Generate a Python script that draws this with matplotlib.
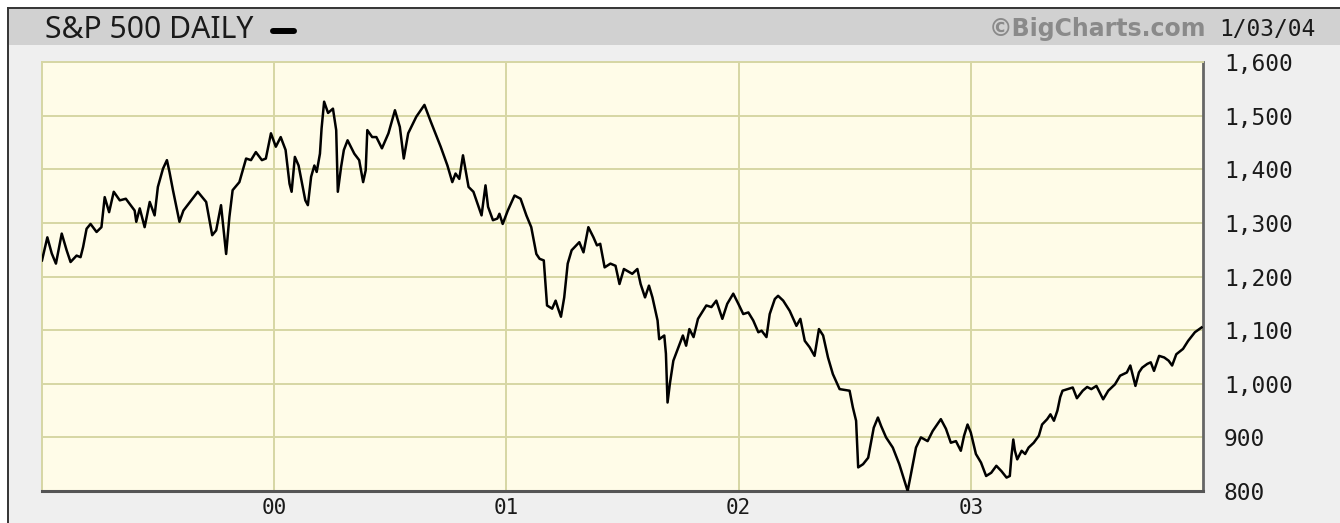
import matplotlib
matplotlib.use("agg")
import matplotlib.pyplot as plt
from matplotlib.patches import Rectangle
from matplotlib.lines import Line2D

# S&P 500 daily close (x in decimal years)
years = [
    1999.000, 1999.023, 1999.042, 1999.060, 1999.085, 1999.106, 1999.123, 1999.149, 1999.166, 1999.177,
    1999.192, 1999.209, 1999.235, 1999.256, 1999.270, 1999.289, 1999.309, 1999.335, 1999.361, 1999.399,
    1999.406, 1999.421, 1999.442, 1999.464, 1999.485, 1999.499, 1999.521, 1999.538, 1999.549, 1999.564,
    1999.592, 1999.609, 1999.671, 1999.707, 1999.733, 1999.750, 1999.771, 1999.793, 1999.807, 1999.821,
    1999.850, 1999.879, 1999.900, 1999.921, 1999.947, 1999.964, 1999.986,
    2000.007, 2000.028, 2000.049, 2000.066, 2000.075, 2000.089, 2000.105, 2000.134, 2000.145, 2000.159,
    2000.173, 2000.183, 2000.197, 2000.204, 2000.215, 2000.232, 2000.253, 2000.267, 2000.274, 2000.288,
    2000.300, 2000.316, 2000.345, 2000.366, 2000.383, 2000.394, 2000.401, 2000.422, 2000.440, 2000.464,
    2000.492, 2000.520, 2000.541, 2000.558, 2000.577, 2000.612, 2000.647, 2000.675, 2000.717, 2000.746,
    2000.767, 2000.781, 2000.797, 2000.813, 2000.823, 2000.837, 2000.858, 2000.893, 2000.910, 2000.921,
    2000.942, 2000.961, 2000.970, 2000.984,
    2001.006, 2001.035, 2001.061, 2001.086, 2001.107, 2001.129, 2001.143, 2001.161, 2001.175, 2001.197,
    2001.212, 2001.223, 2001.235, 2001.249, 2001.264, 2001.281, 2001.314, 2001.332, 2001.353, 2001.375,
    2001.390, 2001.404, 2001.423, 2001.448, 2001.470, 2001.487, 2001.506, 2001.542, 2001.564, 2001.578,
    2001.597, 2001.614, 2001.629, 2001.651, 2001.658, 2001.680, 2001.687, 2001.694, 2001.704, 2001.719,
    2001.738, 2001.760, 2001.774, 2001.788, 2001.806, 2001.825, 2001.861, 2001.883, 2001.904, 2001.930,
    2001.951, 2001.977, 2001.999,
    2002.020, 2002.042, 2002.063, 2002.085, 2002.099, 2002.120, 2002.134, 2002.156, 2002.170, 2002.192,
    2002.220, 2002.249, 2002.266, 2002.285, 2002.306, 2002.327, 2002.346, 2002.364, 2002.385, 2002.406,
    2002.435, 2002.478, 2002.492, 2002.506, 2002.515, 2002.536, 2002.558, 2002.582, 2002.600, 2002.614,
    2002.635, 2002.664, 2002.692, 2002.728, 2002.742, 2002.764, 2002.785, 2002.814, 2002.836, 2002.871,
    2002.893, 2002.914, 2002.936, 2002.957, 2002.971, 2002.986,
    2003.000, 2003.022, 2003.044, 2003.066, 2003.088, 2003.110, 2003.132, 2003.154, 2003.168, 2003.175,
    2003.183, 2003.190, 2003.200, 2003.219, 2003.234, 2003.249, 2003.271, 2003.293, 2003.307, 2003.329,
    2003.343, 2003.358, 2003.373, 2003.385, 2003.395, 2003.417, 2003.439, 2003.457, 2003.482, 2003.501,
    2003.519, 2003.541, 2003.570, 2003.592, 2003.621, 2003.643, 2003.672, 2003.687, 2003.709, 2003.724,
    2003.738, 2003.760, 2003.775, 2003.789, 2003.811, 2003.833, 2003.852, 2003.867, 2003.885, 2003.914,
    2003.936, 2003.965, 2003.994,
]
closes = [
    1230, 1273, 1243, 1224, 1280, 1249, 1227, 1239, 1236, 1255,
    1289, 1298, 1283, 1292, 1348, 1320, 1358, 1342, 1345, 1323,
    1302, 1327, 1292, 1339, 1314, 1367, 1401, 1417, 1395, 1361,
    1302, 1323, 1358, 1339, 1277, 1286, 1333, 1242, 1311, 1361,
    1376, 1420, 1417, 1432, 1417, 1420, 1467,
    1442, 1460, 1436, 1373, 1358, 1423, 1407, 1342, 1333, 1386,
    1407, 1395, 1429, 1476, 1526, 1505, 1513, 1473, 1358, 1404,
    1436, 1454, 1429, 1417, 1376, 1398, 1473, 1460, 1460, 1439,
    1467, 1510, 1479, 1420, 1467, 1498, 1520, 1488, 1442, 1407,
    1376, 1392, 1382, 1426, 1401, 1367, 1358, 1314, 1370, 1330,
    1305, 1308, 1317, 1298,
    1323, 1351, 1345, 1314, 1292, 1242, 1233, 1230, 1146, 1140,
    1155, 1140, 1125, 1161, 1224, 1249, 1264, 1245, 1292, 1273,
    1258, 1261, 1217, 1224, 1220, 1186, 1214, 1205, 1214, 1186,
    1161, 1183, 1161, 1118, 1083, 1090, 1056, 965, 1000, 1043,
    1065, 1090, 1071, 1102, 1087, 1121, 1146, 1143, 1155, 1121,
    1149, 1168, 1149,
    1130, 1133, 1118, 1096, 1099, 1087, 1130, 1158, 1164, 1155,
    1136, 1108, 1121, 1080, 1068, 1052, 1102, 1090, 1049, 1018,
    990, 987, 956, 931, 844, 850, 862, 918, 937, 921,
    900, 881, 850, 800, 831, 881, 900, 893, 912, 934,
    916, 890, 893, 875, 903, 924,
    909, 869, 853, 828, 834, 847, 837, 825, 828, 865,
    896, 875, 859, 875, 869, 881, 890, 903, 924, 934,
    943, 931, 950, 975, 987, 990, 993, 973, 987, 994,
    990, 996, 971, 987, 999, 1015, 1021, 1034, 996, 1021,
    1030, 1037, 1040, 1024, 1052, 1049, 1043, 1034, 1055, 1065,
    1080, 1096, 1105,
]
year_ticks = [2000, 2001, 2002, 2003]
year_labels = ["00", "01", "02", "03"]
price_ticks = [800, 900, 1000, 1100, 1200, 1300, 1400, 1500, 1600]

W, H = 1340, 523


def fx(px):
    return px / W


def fy(py):
    return 1 - py / H


fig = plt.figure(figsize=(W / 100, H / 100), dpi=100)
fig.patch.set_facecolor("white")

# panel background, header band and frame
fig.add_artist(Rectangle((fx(9), 0), 1 - fx(9), fy(9), transform=fig.transFigure,
                         facecolor="#efefef", edgecolor="none", zorder=0))
fig.add_artist(Rectangle((fx(9), fy(45)), 1 - fx(9), fy(9) - fy(45), transform=fig.transFigure,
                         facecolor="#d1d1d1", edgecolor="none", zorder=0))
fig.add_artist(Line2D([fx(8), 1], [fy(8), fy(8)], transform=fig.transFigure, color="#333333", lw=1.4))
fig.add_artist(Line2D([fx(8), fx(8)], [0, fy(8)], transform=fig.transFigure, color="#333333", lw=1.4))

fig.text(fx(45), fy(30), "S&P 500 DAILY", family="Noto Sans", fontsize=21.7,
         color="#1a1a1a", ha="left", va="center")
fig.add_artist(Line2D([fx(273), fx(294)], [fy(31), fy(31)], transform=fig.transFigure,
                      color="black", lw=4.3, solid_capstyle="round"))
fig.text(fx(1206), fy(29), "\u00a9BigCharts.com", family="DejaVu Sans", fontweight="bold",
         fontsize=17, color="#8a8a8a", ha="right", va="center")
fig.text(fx(1219), fy(29), "1/03/04", family="DejaVu Sans Mono", fontsize=16.5,
         color="#1a1a1a", ha="left", va="center")

ax = fig.add_axes([fx(42), fy(491), fx(1203) - fx(42), fy(62) - fy(491)])
ax.set_facecolor("#fffce8")
ax.plot(years, closes, color="black", lw=1.8, zorder=3)

ax.set_xlim(1999.0, 2004.0)
ax.set_ylim(800, 1600)
ax.set_xticks(year_ticks)
ax.set_xticklabels(year_labels)
ax.set_yticks(price_ticks)
ax.set_yticklabels([f"{v:,}" for v in price_ticks])
ax.yaxis.tick_right()
ax.tick_params(axis="y", length=0, pad=15, labelsize=16.5, labelcolor="#1a1a1a")
ax.tick_params(axis="x", length=0, pad=5, labelsize=15, labelcolor="#1a1a1a")
for lbl in ax.get_xticklabels() + ax.get_yticklabels():
    lbl.set_family("DejaVu Sans Mono")

ax.grid(True, color="#d6d6a4", lw=1.4, zorder=1)
ax.set_axisbelow(True)
for side in ("top", "left"):
    ax.spines[side].set_color("#d6d6a4")
    ax.spines[side].set_linewidth(1.4)
ax.spines["right"].set_color("#666666")
ax.spines["right"].set_linewidth(2)
ax.spines["bottom"].set_color("#555555")
ax.spines["bottom"].set_linewidth(2.2)

fig.savefig("out.png", dpi=100)
